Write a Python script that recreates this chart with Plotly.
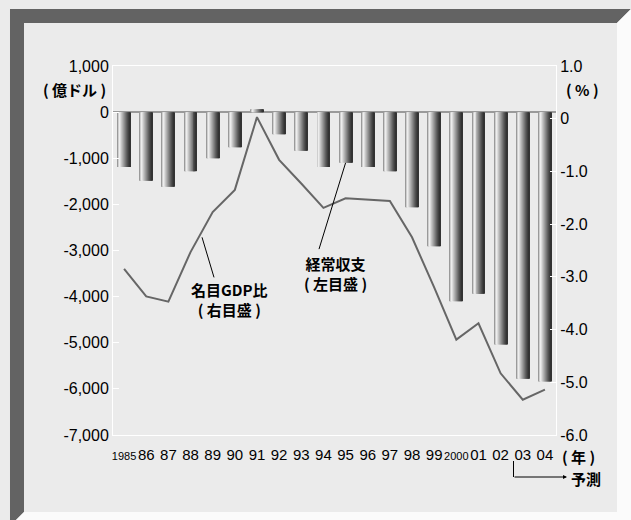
import plotly.graph_objects as go

# 年（カテゴリ）
years = ["1985", "86", "87", "88", "89", "90", "91", "92", "93", "94",
         "95", "96", "97", "98", "99", "2000", "01", "02", "03", "04"]
# 経常収支（億ドル、左目盛）
current_account = [-1190, -1490, -1620, -1280, -1000, -760, 60, -480, -840, -1190,
                   -1100, -1190, -1280, -2060, -2910, -4100, -3940, -5040, -5780, -5840]
# 名目GDP比（%、右目盛）
gdp_ratio = [-2.85, -3.37, -3.47, -2.53, -1.77, -1.35, 0.03, -0.78, -1.23, -1.69,
             -1.51, -1.53, -1.56, -2.25, -3.2, -4.19, -3.88, -4.83, -5.33, -5.14]

left_ticks = [1000, 0, -1000, -2000, -3000, -4000, -5000, -6000, -7000]
left_ticktext = ["1,000", "0", "-1,000", "-2,000", "-3,000", "-4,000", "-5,000", "-6,000", "-7,000"]
right_ticks = [1, 0, -1, -2, -3, -4, -5, -6]
right_ticktext = ["1.0", "0", "-1.0", "-2.0", "-3.0", "-4.0", "-5.0", "-6.0"]

W, H = 631, 520
L, R, T, B = 113, 556, 66, 435   # plot area in pixels

def px(x):
    return (x - L) / (R - L)

def py(y):
    return (B - y) / (B - T)

JP = "Noto Sans CJK JP"
NUM = "Liberation Sans"
BG = "#ebebeb"

idx = list(range(len(years)))
ticktext = [f'<span style="font-size:11px">{y}</span>' if len(y) == 4 else y for y in years]

fig = go.Figure()

# cylinder-like shading built from narrow overlaid strips
shades = ["#9a9a9a", "#cfcfcf", "#ededed", "#dcdcdc", "#c6c6c6", "#b2b2b2", "#9e9e9e",
          "#8a8a8a", "#767676", "#626262", "#505050", "#404040", "#333333"]
bw = 0.58
n = len(shades)
for i, c in enumerate(shades):
    fig.add_trace(go.Bar(
        x=idx, y=current_account, width=bw / n * 1.08, offset=-bw / 2 + i * bw / n,
        marker=dict(color=c, line=dict(width=0)), showlegend=False, hoverinfo="skip",
        yaxis="y"))

fig.add_trace(go.Scatter(
    x=idx, y=gdp_ratio, mode="lines", line=dict(color="#666666", width=2),
    showlegend=False, yaxis="y2"))

# frame bevel
def path(points):
    return "M " + " L ".join(f"{px(x):.5f},{py(y):.5f}" for x, y in points) + " Z"

shapes = [
    dict(type="path", xref="paper", yref="paper", layer="below",
         path=path([(10, 9), (631, 9), (617, 23), (24, 23), (24, 512), (16, 520), (10, 520)]),
         fillcolor="#636363", line=dict(width=0)),
    dict(type="path", xref="paper", yref="paper", layer="below",
         path=path([(631, 9), (631, 520), (16, 520), (24, 512), (617, 512), (617, 23)]),
         fillcolor="#fbfbfb", line=dict(width=0)),
    # leader lines
    dict(type="line", xref="x", yref="y", x0=10, y0=current_account[10], x1=8.8, y1=-2970,
         line=dict(color="#000000", width=1)),
    dict(type="line", xref="x", yref="y2", x0=3.52, y0=-2.25, x1=4.06, y1=-3.01,
         line=dict(color="#000000", width=1)),
    # forecast bracket
    dict(type="line", xref="paper", yref="paper", x0=px(513.5), y0=py(461), x1=px(513.5), y1=py(477),
         line=dict(color="#000000", width=1)),
]

def label(text, x, y, size=15):
    return dict(text=text, x=px(x), y=py(y), xref="paper", yref="paper",
                xanchor="center", yanchor="middle", showarrow=False,
                font=dict(family=JP, size=size, color="#000"))

annotations = [
    label("<b>( 億ドル )</b>", 74, 89),
    label("<b>( % )</b>", 582, 89),
    label("<b>( 年 )</b>", 578, 456),
    label("<b>予測</b>", 586, 478),
    dict(text="", x=px(567), y=py(477), xref="paper", yref="paper",
         showarrow=True, ax=-54, ay=0, arrowhead=2, arrowsize=0.8, arrowwidth=1,
         arrowcolor="#000", standoff=0),
    label("<b>名目GDP比</b><br><b>( 右目盛 )</b>", 229, 299),
    label("<b>経常収支</b><br><b>( 左目盛 )</b>", 335, 273),
]

fig.update_layout(
    width=W, height=H,
    margin=dict(l=L, r=W - R, t=T, b=H - B, pad=0),
    paper_bgcolor=BG, plot_bgcolor=BG,
    barmode="overlay",
    font=dict(family=NUM, size=15, color="#000"),
    xaxis=dict(range=[-0.5, len(years) - 0.5], tickvals=idx, ticktext=ticktext,
               showgrid=False, zeroline=False, showline=True, linecolor="#ffffff",
               linewidth=1, mirror=True, ticks="", tickfont=dict(size=15),
               tickangle=0, ticklabelstandoff=6),
    yaxis=dict(range=[-7000, 1000], tickvals=left_ticks, ticktext=left_ticktext,
               showgrid=False, zeroline=True, zerolinecolor="#9a9a9a", zerolinewidth=2,
               showline=True, linecolor="#ffffff", linewidth=1, mirror=True,
               ticks="inside", ticklen=6, tickcolor="#ffffff", tickfont=dict(size=16)),
    yaxis2=dict(range=[-6, 1], tickvals=right_ticks, ticktext=right_ticktext,
                overlaying="y", side="right", showgrid=False, zeroline=False,
                showline=True, linecolor="#ffffff", linewidth=1,
                ticks="inside", ticklen=6, tickcolor="#ffffff", tickfont=dict(size=16)),
    shapes=shapes,
    annotations=annotations,
)

fig.write_html("out.html")
